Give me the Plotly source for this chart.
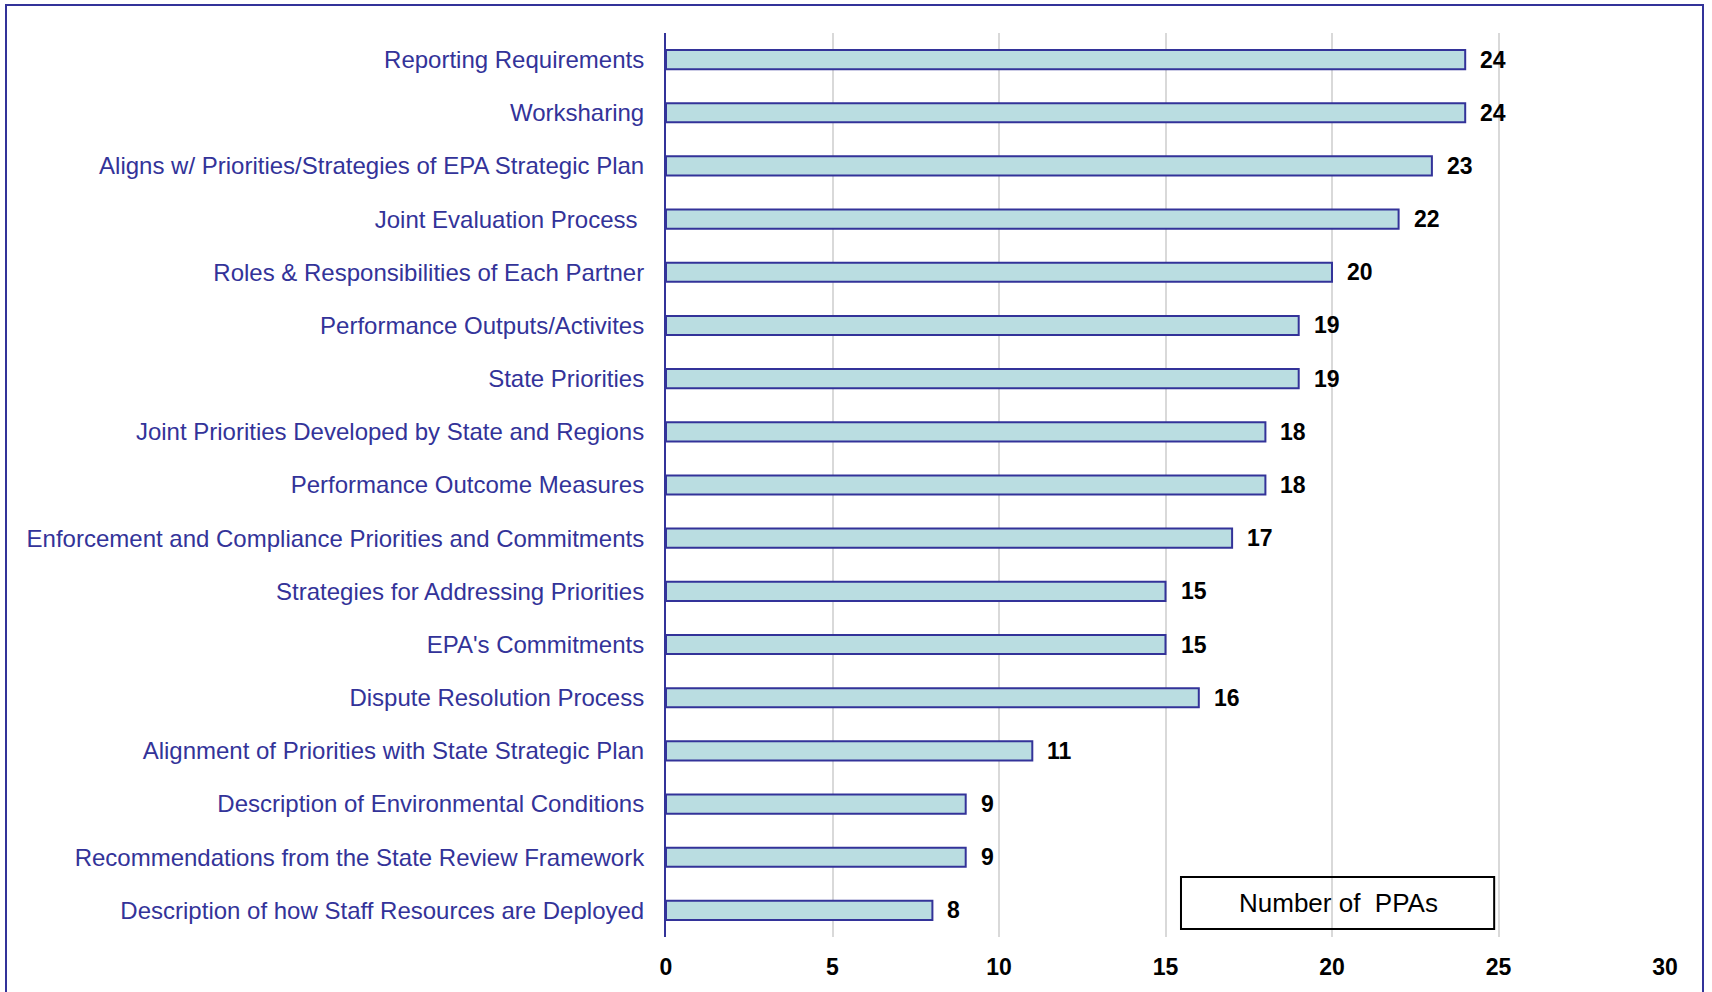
import plotly.graph_objects as go

categories = [
    "Reporting Requirements",
    "Worksharing",
    "Aligns w/ Priorities/Strategies of EPA Strategic Plan",
    "Joint Evaluation Process ",
    "Roles & Responsibilities of Each Partner",
    "Performance Outputs/Activites",
    "State Priorities",
    "Joint Priorities Developed by State and Regions",
    "Performance Outcome Measures",
    "Enforcement and Compliance Priorities and Commitments",
    "Strategies for Addressing Priorities",
    "EPA's Commitments",
    "Dispute Resolution Process",
    "Alignment of Priorities with State Strategic Plan",
    "Description of Environmental Conditions",
    "Recommendations from the State Review Framework",
    "Description of how Staff Resources are Deployed",
]
values = [24, 24, 23, 22, 20, 19, 19, 18, 18, 17, 15, 15, 16, 11, 9, 9, 8]
x_ticks = [0, 5, 10, 15, 20, 25, 30]
legend_text = "Number of&nbsp; PPAs"

BLUE = "#333399"
FONT = "Liberation Sans, Arial, sans-serif"

fig = go.Figure()
fig.add_trace(go.Bar(
    x=values,
    y=categories,
    orientation="h",
    width=0.36,
    marker=dict(color="#BADDE1", line=dict(color=BLUE, width=2)),
    hoverinfo="x+y",
))

for v, c in zip(values, categories):
    fig.add_annotation(
        x=v, y=c, text=f"<b>{v}</b>", showarrow=False,
        xanchor="left", yanchor="middle", xshift=13,
        font=dict(family=FONT, size=23, color="black"),
    )

# legend-like box
fig.add_shape(type="rect", xref="paper", yref="paper",
              x0=0.5155, x1=0.829, y0=0.0088, y1=0.0664,
              line=dict(color="black", width=2), fillcolor="rgba(0,0,0,0)")
fig.add_annotation(xref="paper", yref="paper", x=0.673, y=0.0376,
                   text=legend_text, showarrow=False,
                   xanchor="center", yanchor="middle",
                   font=dict(family=FONT, size=26, color="black"))

# outer frame
fig.add_shape(type="rect", xref="paper", yref="paper",
              x0=(6 - 666) / 999, x1=(1703 - 666) / 999,
              y0=-0.2, y1=(937 - 5) / 904,
              line=dict(color=BLUE, width=2), fillcolor="rgba(0,0,0,0)",
              layer="below")

fig.update_layout(
    width=1712, height=992,
    margin=dict(l=666, r=47, t=33, b=55),
    paper_bgcolor="white", plot_bgcolor="white",
    showlegend=False,
    font=dict(family=FONT),
)
fig.update_xaxes(
    range=[0, 30], tickvals=x_ticks, ticktext=[f"<b>{t}</b>" for t in x_ticks],
    showgrid=True, gridcolor="#D9D9D9", gridwidth=1.5,
    zeroline=False, showline=False, ticks="",
    tickfont=dict(family=FONT, size=23, color="black"),
    ticklabelstandoff=14,
)
fig.update_yaxes(
    autorange="reversed", type="category",
    showline=True, linecolor=BLUE, linewidth=2,
    showgrid=False, ticks="",
    tickfont=dict(family=FONT, size=24, color=BLUE),
    ticklabelstandoff=15,
)

fig.write_html(
    "out.html",
    config={"displayModeBar": False},
    post_script="document.body.style.margin='0';document.body.style.overflow='hidden';",
)
